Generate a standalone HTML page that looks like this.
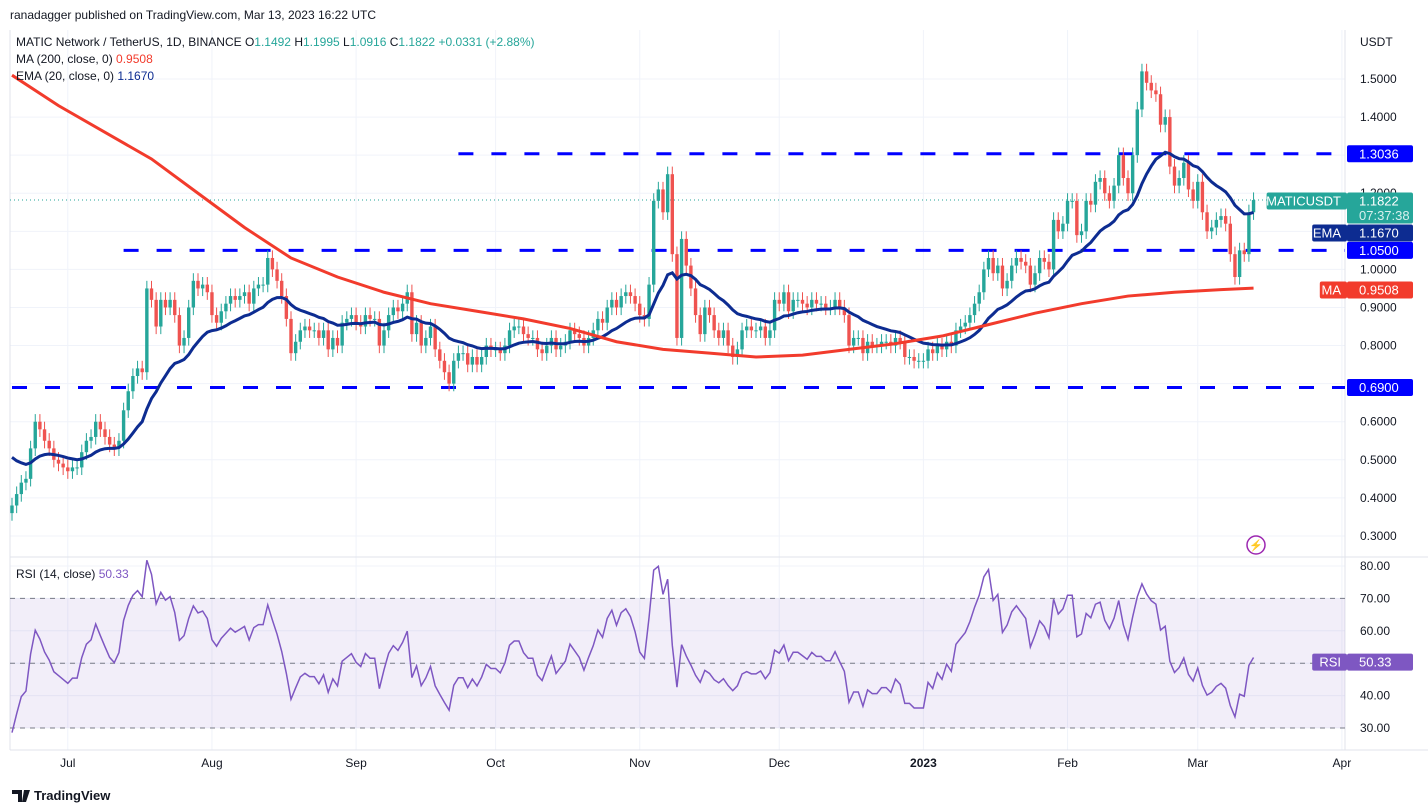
<!DOCTYPE html>
<html><head><meta charset="utf-8">
<style>
body{margin:0;background:#fff;width:1428px;height:812px;overflow:hidden;font-family:"Liberation Sans",sans-serif;}
svg text{font-family:"Liberation Sans",sans-serif;}
</style></head>
<body>
<div style="position:absolute;left:10px;top:8px;font-size:12px;color:#131722">ranadagger published on TradingView.com, Mar 13, 2023 16:22 UTC</div>
<svg id="chart" width="1428" height="812" style="position:absolute;left:0;top:0">
<g id="grid"></g><g id="levels"></g><g id="candles"></g><g id="lines"></g><g id="rsi"></g><g id="axes"></g>
<text x="16" y="46" font-size="12" fill="#131722">MATIC Network / TetherUS, 1D, BINANCE  O<tspan fill="#26a69a">1.1492</tspan> H<tspan fill="#26a69a">1.1995</tspan> L<tspan fill="#26a69a">1.0916</tspan> C<tspan fill="#26a69a">1.1822 +0.0331 (+2.88%)</tspan></text>
<text x="16" y="63" font-size="12" fill="#131722">MA (200, close, 0)  <tspan fill="#f23b2c">0.9508</tspan></text>
<text x="16" y="80" font-size="12" fill="#131722">EMA (20, close, 0)  <tspan fill="#0d2c91">1.1670</tspan></text>
<text x="16" y="578" font-size="12" fill="#131722">RSI (14, close)  <tspan fill="#7e57c2">50.33</tspan></text>
<text x="1360" y="46" font-size="12" fill="#131722">USDT</text>
<circle cx="1256" cy="545" r="9" fill="none" stroke="#9c27b0" stroke-width="1.5"/>
<text x="1256" y="549" font-size="11" fill="#9c27b0" text-anchor="middle">⚡</text>
<text x="34" y="800" font-size="13" font-weight="bold" fill="#131722">TradingView</text>
<path d="M12 790h10v12h-4v-8h-6z M24 790h6l-4 12h-4z" fill="#131722"/>
</svg>
<script>
// ---- data ----
const jun=[0.38,0.41,0.44,0.45,0.53,0.60,0.58,0.55,0.53,0.50,0.49,0.48];
const jul=[0.47,0.48,0.48,0.52,0.55,0.56,0.60,0.58,0.56,0.54,0.53,0.55,0.63,0.68,0.72,0.74,0.73,0.95,0.92,0.85,0.92,0.90,0.92,0.88,0.80,0.82,0.90,0.97,0.95,0.96,0.94];
const aug=[0.88,0.86,0.89,0.91,0.93,0.92,0.93,0.94,0.91,0.95,0.96,0.96,1.03,1.00,0.97,0.93,0.87,0.78,0.81,0.84,0.85,0.84,0.84,0.82,0.84,0.79,0.82,0.80,0.86,0.87,0.88];
const sep=[0.86,0.85,0.88,0.87,0.87,0.80,0.84,0.88,0.90,0.89,0.91,0.94,0.83,0.86,0.80,0.82,0.85,0.79,0.76,0.73,0.70,0.76,0.78,0.78,0.75,0.77,0.75,0.77,0.80,0.79];
const oct=[0.79,0.78,0.80,0.84,0.85,0.85,0.83,0.82,0.82,0.79,0.78,0.80,0.82,0.79,0.80,0.81,0.84,0.83,0.82,0.80,0.82,0.84,0.87,0.86,0.90,0.92,0.90,0.93,0.94,0.93,0.91];
const nov=[0.88,0.87,0.96,1.18,1.21,1.15,1.25,1.04,0.82,1.08,1.01,0.95,0.88,0.83,0.90,0.88,0.84,0.82,0.84,0.80,0.77,0.79,0.84,0.85,0.84,0.84,0.85,0.82,0.84,0.92];
const dec=[0.91,0.94,0.89,0.92,0.92,0.91,0.90,0.92,0.91,0.91,0.90,0.90,0.92,0.90,0.88,0.80,0.82,0.82,0.78,0.81,0.80,0.80,0.81,0.81,0.80,0.82,0.81,0.77,0.77,0.76,0.76];
const jan=[0.76,0.79,0.78,0.80,0.79,0.81,0.80,0.84,0.85,0.86,0.88,0.91,0.94,1.00,1.03,0.99,1.01,0.95,0.97,1.01,1.03,1.02,1.01,0.96,0.99,1.03,1.02,1.00,1.13,1.10,1.12];
const feb=[1.18,1.18,1.09,1.10,1.18,1.17,1.23,1.24,1.20,1.18,1.22,1.30,1.24,1.20,1.30,1.42,1.52,1.49,1.47,1.46,1.38,1.40,1.27,1.22,1.24,1.28,1.21,1.18];
const mar=[1.23,1.15,1.10,1.11,1.13,1.14,1.12,1.04,0.98,1.05,1.04,1.15,1.1822];
const closes=[].concat(jun,jul,aug,sep,oct,nov,dec,jan,feb,mar);
const ma200Idx=[0,10,20,30,40,50,60,70,80,90,100,110,120,130,140,150,160,170,180,190,200,210,220,230,240,250,260,267];
const ma200=[1.51,1.43,1.36,1.29,1.20,1.11,1.03,0.98,0.94,0.91,0.89,0.87,0.845,0.81,0.79,0.78,0.77,0.775,0.79,0.805,0.825,0.855,0.885,0.91,0.93,0.94,0.947,0.9508];
const priceTicks=[0.3,0.4,0.5,0.6,0.7,0.8,0.9,1.0,1.1,1.2,1.3,1.4,1.5];
const rsiTicks=[30,40,50,60,70,80];
const monthLabels=["Jul","Aug","Sep","Oct","Nov","Dec","2023","Feb","Mar","Apr"];
const monthIdx=[12,43,74,104,135,165,196,227,255,286];
const levels=[1.3036,1.05,0.69];
const levelStart=[96,24,0];
// ---- scales ----
const X0=12,DX=4.65,PR=1345;
const xs=i=>X0+i*DX;
const yp=p=>79+(1.5-p)*380.8;
const yr=r=>566+(80-r)*3.24;
const NS="http://www.w3.org/2000/svg";
function mk(tag,attrs,parent){const e=document.createElementNS(NS,tag);for(const k in attrs)e.setAttribute(k,attrs[k]);document.getElementById(parent).appendChild(e);return e;}
// grid
priceTicks.forEach(p=>{const l=mk('line',{x1:10,x2:PR,y1:yp(p),y2:yp(p),stroke:'#f0f3fa'},'grid');


const t=mk('text',{x:1360,y:yp(p)+4,'font-size':12,fill:'#131722'},'axes');t.textContent=p.toFixed(4);

});
rsiTicks.forEach(r=>{const l=mk('line',{x1:10,x2:PR,y1:yr(r),y2:yr(r),stroke:'#f0f3fa'},'grid');


const t=mk('text',{x:1360,y:yr(r)+4,'font-size':12,fill:'#131722'},'axes');t.textContent=r.toFixed(2);

});
monthIdx.forEach((m,k)=>{const x=xs(m);const l=mk('line',{x1:x,x2:x,y1:30,y2:750,stroke:'#f0f3fa'},'grid');


const t=mk('text',{x:x,y:767,'font-size':12,fill:'#131722','text-anchor':'middle','font-weight':monthLabels[k]==='2023'?'bold':'normal'},'axes');t.textContent=monthLabels[k];

});
// pane borders
[[10,557,1428,557],[1345,30,1345,750],[10,750,1428,750],[10,30,10,750]].forEach(a=>{const l=mk('line',{x1:a[0],y1:a[1],x2:a[2],y2:a[3],stroke:'#e0e3eb'},'grid');

});
// levels
levels.forEach((p,k)=>{const l=mk('line',{x1:xs(levelStart[k]),x2:PR,y1:yp(p),y2:yp(p),stroke:'#0000ff','stroke-width':3,'stroke-dasharray':'15 18'},'levels');

});
// last price dotted
const lp=mk('line',{x1:10,x2:PR,y1:yp(1.1822),y2:yp(1.1822),stroke:'#26a69a','stroke-dasharray':'1 3'},'levels');


// candles
closes.forEach((c,i)=>{const o=i?closes[i-1]:c-0.02;const up=c>=o;const col=up?'#26a69a':'#ef5350';
const hi=Math.max(o,c)+0.02,lo=Math.min(o,c)-0.02;const x=xs(i);
const w=mk('line',{x1:x,x2:x,y1:yp(hi),y2:yp(lo),stroke:col,'stroke-width':1},'candles');


const top=yp(Math.max(o,c)),h=Math.max(1,yp(Math.min(o,c))-top);
const b=mk('rect',{x:x-1.7,y:top,width:3.4,height:h,fill:col},'candles');

});
// EMA20
let ema=[],e=0.52,k=2/21;closes.forEach(c=>{e=c*k+e*(1-k);ema.push(e);});
const ep=mk('path',{d:ema.map((v,i)=>(i?'L':'M')+xs(i)+' '+yp(v)).join(''),fill:'none',stroke:'#0d2c91','stroke-width':3},'lines');


const mp=mk('path',{d:ma200.map((v,i)=>(i?'L':'M')+xs(ma200Idx[i])+' '+yp(v)).join(''),fill:'none',stroke:'#f23b2c','stroke-width':3},'lines');


// RSI
const band=mk('rect',{x:10,y:yr(70),width:PR-10,height:yr(30)-yr(70),fill:'#7e57c2','fill-opacity':0.1},'rsi');


[70,50,30].forEach(r=>{const l=mk('line',{x1:10,x2:PR,y1:yr(r),y2:yr(r),stroke:'#787b86','stroke-dasharray':'5 5'},'rsi');

});
let ag=0.008,al=0.02,rsi=[];
closes.forEach((c,i)=>{const d=i?c-closes[i-1]:0;ag=(ag*13+Math.max(d,0))/14;al=(al*13+Math.max(-d,0))/14;rsi.push(100-100/(1+ag/al));});
const rp=mk('path',{d:rsi.map((v,i)=>(i?'L':'M')+xs(i)+' '+yr(v)).join(''),fill:'none',stroke:'#7e57c2','stroke-width':1.5},'rsi');


// price boxes
function box(y,h,label,val,bg,name,extra){
if(label){const tw=label.length*7.6+12;const lb=mk('rect',{x:1347-tw,y:y-h/2,width:tw,height:h,fill:bg,rx:2},'axes');


const lt=mk('text',{x:1347-6,y:y+4.5,'font-size':13,fill:'#fff','text-anchor':'end'},'axes');lt.textContent=label;

}
const r=mk('rect',{x:1347,y:y-h/2,width:66,height:h+(extra?14:0),fill:bg,rx:2},'axes');


const t=mk('text',{x:1359,y:y+4.5,'font-size':13,fill:'#fff'},'axes');t.textContent=val;


if(extra){const t2=mk('text',{x:1359,y:y+19,'font-size':13,fill:'#d8f0ee'},'axes');t2.textContent=extra;

}}
box(yp(1.3036),17,'', '1.3036','#0000ff','level-1.3036');
box(yp(1.05),17,'', '1.0500','#0000ff','level-1.05');
box(yp(0.69),17,'', '0.6900','#0000ff','level-0.69');
box(201,17,'MATICUSDT','1.1822','#26a69a','last-price','07:37:38');
box(233,17,'EMA','1.1670','#0d2c91','ema');
box(290,17,'MA','0.9508','#f23b2c','ma');
box(yr(50.33),17,'RSI','50.33','#7e57c2','rsi');
</script>
</body></html>
